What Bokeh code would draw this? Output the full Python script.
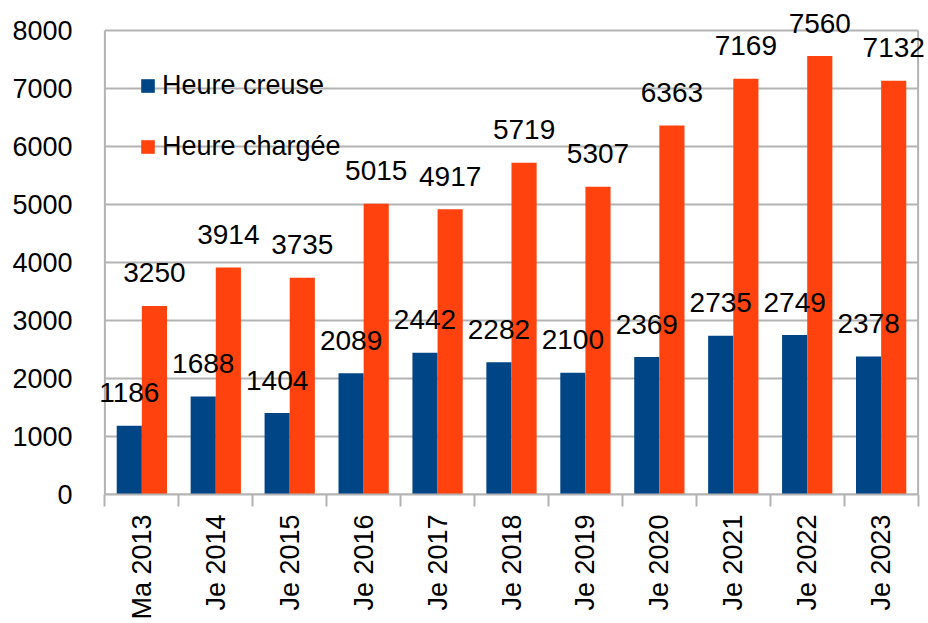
from bokeh.plotting import figure
from bokeh.models import ColumnDataSource, FixedTicker, Range1d, Legend, LegendItem, Label
from bokeh.embed import file_html
from bokeh.resources import INLINE
import math

categories = ["Ma 2013", "Je 2014", "Je 2015", "Je 2016", "Je 2017", "Je 2018",
              "Je 2019", "Je 2020", "Je 2021", "Je 2022", "Je 2023"]
heure_creuse = [1186, 1688, 1404, 2089, 2442, 2282, 2100, 2369, 2735, 2749, 2378]
heure_chargee = [3250, 3914, 3735, 5015, 4917, 5719, 5307, 6363, 7169, 7560, 7132]
y_ticks = [0, 1000, 2000, 3000, 4000, 5000, 6000, 7000, 8000]

BLUE = "#004586"
ORANGE = "#ff420e"
GRID = "#b3b3b3"
FONT = "Liberation Sans"

n = len(categories)
centers = [i + 0.5 for i in range(n)]
bw = 0.34
y_max = y_ticks[-1]

x_c = [c - bw / 2 for c in centers]
x_h = [c + bw / 2 for c in centers]
src_c = ColumnDataSource(dict(x=x_c, top=heure_creuse))
src_h = ColumnDataSource(dict(x=x_h, top=heure_chargee))

# frame slightly larger than the drawn area so value labels are not clipped
p = figure(width=928, height=623, output_backend="svg", toolbar_location=None,
           x_range=Range1d(-0.1, n + 0.1), y_range=Range1d(0, y_max * 1.0474))
p.min_border_left = 97
p.min_border_right = 3
p.min_border_top = 8
p.min_border_bottom = 129
p.outline_line_color = None
p.background_fill_color = "white"
p.border_fill_color = "white"
p.xgrid.grid_line_color = None
p.ygrid.grid_line_color = None

# horizontal grid lines and plot-area borders
p.segment(x0=0, y0=y_ticks, x1=n, y1=y_ticks, line_color=GRID, line_width=2)
p.segment(x0=[0, n], y0=[0, 0], x1=[0, n], y1=[y_max, y_max], line_color=GRID, line_width=2)

r1 = p.vbar(x="x", top="top", width=bw, source=src_c, fill_color=BLUE, line_color=None)
r2 = p.vbar(x="x", top="top", width=bw, source=src_h, fill_color=ORANGE, line_color=None)

for xs, vals in ((x_c, heure_creuse), (x_h, heure_chargee)):
    for xv, v in zip(xs, vals):
        p.add_layout(Label(x=xv, y=v, text=str(v), text_align="center",
                           text_baseline="alphabetic", y_offset=33, text_font=FONT,
                           text_font_size="28px", text_color="#000000"))

# x axis
p.xaxis.ticker = FixedTicker(ticks=centers, minor_ticks=list(range(n + 1)))
p.xaxis.bounds = (0, n)
p.xaxis.major_label_overrides = {c: lab for c, lab in zip(centers, categories)}
p.xaxis.major_label_orientation = math.pi / 2
p.xaxis.major_tick_line_color = None
p.xaxis.major_tick_out = 0
p.xaxis.major_tick_in = 0
p.xaxis.minor_tick_out = 12
p.xaxis.minor_tick_in = 0
p.xaxis.minor_tick_line_color = GRID
p.xaxis.minor_tick_line_width = 2
p.xaxis.axis_line_color = GRID
p.xaxis.axis_line_width = 2
p.xaxis.major_label_standoff = 8
p.xaxis.major_label_text_font = FONT
p.xaxis.major_label_text_font_size = "27px"
p.xaxis.major_label_text_color = "#000000"

# y axis
p.yaxis.ticker = FixedTicker(ticks=y_ticks)
p.yaxis.major_tick_out = 0
p.yaxis.major_tick_in = 0
p.yaxis.minor_tick_line_color = None
p.yaxis.major_tick_line_color = None
p.yaxis.axis_line_color = None
p.yaxis.major_label_standoff = 25
p.yaxis.major_label_text_font = FONT
p.yaxis.major_label_text_font_size = "27px"
p.yaxis.major_label_text_color = "#000000"

legend = Legend(items=[LegendItem(label="Heure creuse", renderers=[r1]),
                       LegendItem(label="Heure chargée", renderers=[r2])],
                location=(42, 332))
legend.label_text_font = FONT
legend.label_text_font_size = "27px"
legend.label_text_color = "#000000"
legend.glyph_width = 17
legend.glyph_height = 17
legend.label_standoff = 6
legend.spacing = 30
legend.padding = 0
legend.margin = 0
legend.border_line_color = None
legend.background_fill_alpha = 0
p.add_layout(legend)

open("out.html", "w").write(file_html(p, INLINE))
